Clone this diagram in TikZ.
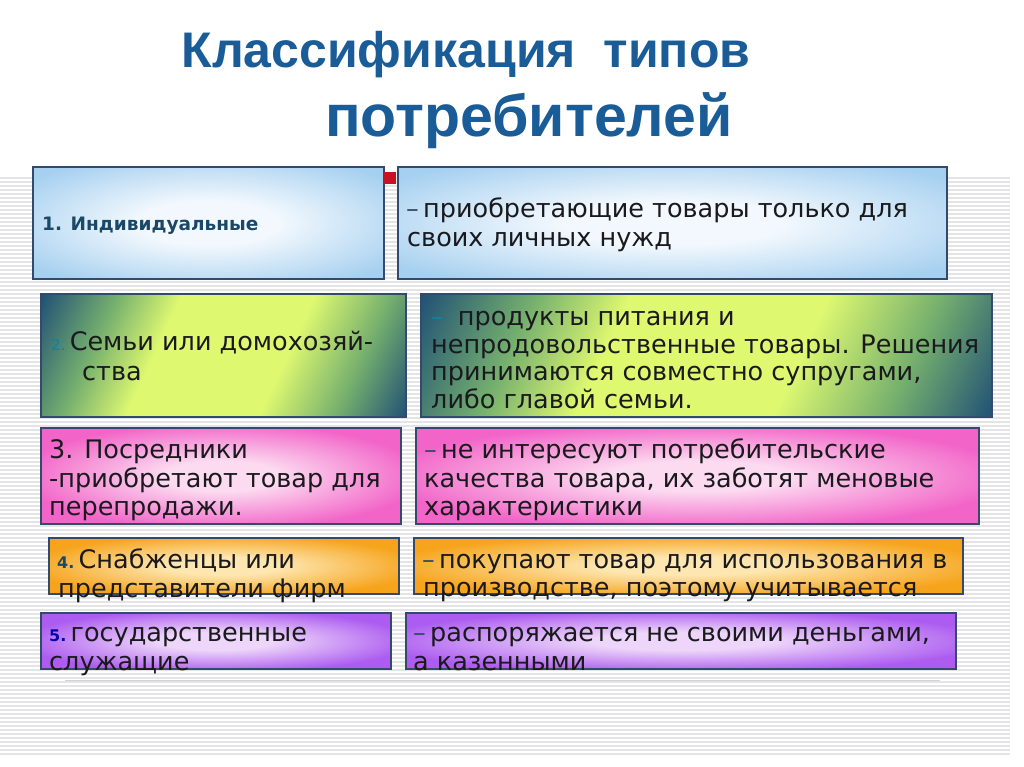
\documentclass[tikz,border=0pt]{standalone}
\usepackage{fontspec}
\setmainfont{DejaVu Sans}
\newfontfamily\titlefont{Liberation Sans}
\definecolor{titleblue}{RGB}{26,92,152}
\definecolor{headteal}{RGB}{28,72,104}
\definecolor{frame}{RGB}{52,74,106}
\definecolor{txt}{RGB}{26,26,30}
\definecolor{stripe}{RGB}{228,228,230}
\definecolor{blueout}{RGB}{166,208,240}
\definecolor{bluein}{RGB}{242,248,253}
\definecolor{ygin}{RGB}{222,248,112}
\definecolor{ygmid}{RGB}{118,176,110}
\definecolor{ygout}{RGB}{26,74,118}
\definecolor{pinkout}{RGB}{242,100,200}
\definecolor{pinkin}{RGB}{252,218,240}
\definecolor{orout}{RGB}{246,164,28}
\definecolor{orin}{RGB}{253,230,176}
\definecolor{puout}{RGB}{172,92,240}
\definecolor{puin}{RGB}{238,214,250}
\definecolor{redsq}{RGB}{200,18,36}
\pgfdeclareradialshading{shblue}{\pgfpoint{0bp}{0bp}}{color(0bp)=(bluein); color(10bp)=(bluein); color(32bp)=(blueout); color(50bp)=(blueout)}
\pgfdeclarehorizontalshading{shyg}{100bp}{color(0bp)=(ygout); color(16bp)=(ygout); color(29bp)=(ygmid); color(39bp)=(ygin); color(60bp)=(ygin); color(72bp)=(ygmid); color(84bp)=(ygout); color(100bp)=(ygout)}
\pgfdeclareradialshading{shpink}{\pgfpoint{0bp}{0bp}}{color(0bp)=(pinkin); color(8bp)=(pinkin); color(28bp)=(pinkout); color(50bp)=(pinkout)}
\pgfdeclareradialshading{shor}{\pgfpoint{0bp}{0bp}}{color(0bp)=(orin); color(8bp)=(orin); color(28bp)=(orout); color(50bp)=(orout)}
\pgfdeclareradialshading{shpu}{\pgfpoint{0bp}{0bp}}{color(0bp)=(puin); color(8bp)=(puin); color(28bp)=(puout); color(50bp)=(puout)}
\tikzset{
  panel/.style={draw=frame, line width=2pt, inner sep=0pt, anchor=north west},
  bluepanel/.style={panel, shading=shblue},
  ygpanel/.style={panel, shading=shyg, shading angle=-25},
  pinkpanel/.style={panel, shading=shpink},
  orpanel/.style={panel, shading=shor},
  pupanel/.style={panel, shading=shpu},
  line/.style={anchor=base west, inner sep=0pt, text=txt, font=\fontsize{25.5}{28}\selectfont},
  ttl/.style={anchor=base, inner sep=0pt, text=titleblue, font=\titlefont\bfseries\fontsize{50}{60}\selectfont},
  stripeline/.style={draw=stripe, line width=1.6pt}
}
\begin{document}
\begin{tikzpicture}[x=1pt,y=-1pt]
\useasboundingbox[fill=white] (0,0) rectangle (1024,767);
% background stripes
\foreach \yy in {178,182,...,754} \draw[stripeline] (0,\yy) -- (1010,\yy);
\draw[draw=gray!35, line width=1pt] (65,680) -- (940,680);
% title
\node[ttl] (t1) at (466,68) {Классификация\ \ типов};
\node[ttl, font=\titlefont\bfseries\fontsize{59}{66}\selectfont] (t2) at (529,137) {потребителей};
% boxes
\node[bluepanel, minimum width=351pt, minimum height=112pt] (b1) at (32,166) {};
\node[bluepanel, minimum width=549pt, minimum height=112pt] (r1) at (397,166) {};
\node[fill=redsq, inner sep=0pt, minimum width=12pt, minimum height=12pt, anchor=north west] (sq) at (384,172) {};
\node[ygpanel, minimum width=365pt, minimum height=123pt] (b2) at (40,293) {};
\node[ygpanel, minimum width=571pt, minimum height=123pt] (r2) at (420,293) {};
\node[pinkpanel, minimum width=360pt, minimum height=96pt] (b3) at (40,427) {};
\node[pinkpanel, minimum width=563pt, minimum height=96pt] (r3) at (415,427) {};
\node[orpanel, minimum width=350pt, minimum height=56pt] (b4) at (48,537) {};
\node[orpanel, minimum width=549pt, minimum height=56pt] (r4) at (413,537) {};
\node[pupanel, minimum width=350pt, minimum height=56pt] (b5) at (40,612) {};
\node[pupanel, minimum width=550pt, minimum height=56pt] (r5) at (405,612) {};
% row 1
\node[anchor=base west, inner sep=0pt, text=headteal, font=\bfseries\fontsize{18.5}{22}\selectfont] (l1) at (42,231) {1. Индивидуальные};
\node[line] (m1a) at (406,218) {\textcolor{frame}{–}\,приобретающие товары только для};
\node[line] (m1b) at (407,246) {своих личных нужд};
% row 2
\node[line] (l2a) at (51,350) {\textcolor{ygout!70!cyan}{\fontsize{15}{16}\selectfont 2.}\,Семьи или домохозяй-};
\node[line] (l2b) at (82,380) {ства};
\node[line] (m2a) at (431,325) {\textcolor{ygout!70!cyan}{–}\hspace{14pt}продукты питания и};
\node[line] (m2b) at (431,353) {непродовольственные товары. Решения};
\node[line] (m2c) at (431,380) {принимаются совместно супругами,};
\node[line] (m2d) at (431,408) {либо главой семьи.};
% row 3
\node[line] (l3a) at (49,458) {3. Посредники};
\node[line] (l3b) at (49,487) {-приобретают товар для};
\node[line] (l3c) at (49,515) {перепродажи.};
\node[line] (m3a) at (424,458) {\textcolor{frame}{–}\,не интересуют потребительские};
\node[line] (m3b) at (424,487) {качества товара, их заботят меновые};
\node[line] (m3c) at (424,515) {характеристики};
% row 4
\node[line] (l4a) at (57,568) {\textcolor{headteal}{\bfseries\fontsize{16}{18}\selectfont 4.}\,Снабженцы или};
\node[line] (l4b) at (58,597) {представители фирм};
\node[line] (m4a) at (422,568) {\textcolor{frame}{–}\,покупают товар для использования в};
\node[line] (m4b) at (423,596) {производстве, поэтому учитывается};
% row 5
\node[line] (l5a) at (49,641) {\textcolor{blue!70!black}{\bfseries\fontsize{16}{18}\selectfont 5.}\,государственные};
\node[line] (l5b) at (49,670) {служащие};
\node[line] (m5a) at (413,641) {\textcolor{frame}{–}\,распоряжается не своими деньгами,};
\node[line] (m5b) at (413,670) {а казенными};
\end{tikzpicture}
\end{document}
